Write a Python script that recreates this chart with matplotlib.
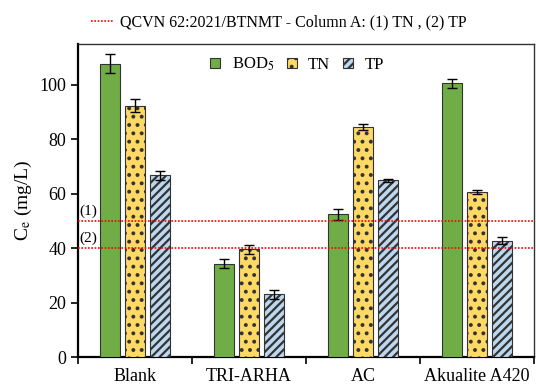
import numpy as np
import matplotlib
matplotlib.use("Agg")
import matplotlib.pyplot as plt
from matplotlib.lines import Line2D

plt.rcParams["font.family"] = ["Liberation Serif", "DejaVu Serif"]
plt.rcParams["mathtext.fontset"] = "stix"
plt.rcParams["hatch.linewidth"] = 1.6

groups = ["Blank", "TRI-ARHA", "AC", "Akualite A420"]
bod = [107.7, 34.3, 52.4, 100.6]
bod_err = [3.5, 1.6, 2.0, 1.6]
tn = [92.4, 39.5, 84.5, 60.6]
tn_err = [2.5, 1.5, 1.2, 0.7]
tp = [66.8, 23.0, 64.9, 42.8]
tp_err = [1.6, 1.6, 0.6, 1.2]
limit_tn = 50
limit_tp = 40

fig = plt.figure(figsize=(5.36, 3.87), dpi=100)
ax = fig.add_axes([78 / 536, 30 / 387, 456 / 536, 313 / 387])

x = np.arange(len(groups))
w = 0.175
step = 0.22
ek = dict(ecolor="black", elinewidth=1, capsize=3.5, capthick=1)

ax.bar(x - step, bod, w, yerr=bod_err, color="#70AD47", edgecolor="#333333",
       linewidth=0.8, error_kw=ek, label="BOD$_5$", zorder=3)
ax.bar(x, tn, w, yerr=tn_err, color="#FFD966", edgecolor="#333333",
       linewidth=0.8, hatch="..", error_kw=ek, label="TN", zorder=3)
ax.bar(x + step, tp, w, yerr=tp_err, color="#BDD7EE", edgecolor="#333333",
       linewidth=0.8, hatch="////", error_kw=ek, label="TP", zorder=3)

# discharge limits
ax.axhline(limit_tn, color="red", ls=(0, (1, 1)), lw=1.2, zorder=4)
ax.axhline(limit_tp, color="red", ls=(0, (1, 1)), lw=1.2, zorder=4)
ax.text(-0.49, limit_tn + 1, "(1)", fontsize=11, ha="left", va="bottom")
ax.text(-0.49, limit_tp + 1, "(2)", fontsize=11, ha="left", va="bottom")

ax.set_xlim(-0.5, 3.5)
ax.set_ylim(0, 115)
ax.set_yticks([0, 20, 40, 60, 80, 100])
ax.set_xticks([-0.5, 0.5, 1.5, 2.5, 3.5])
ax.set_xticklabels([])
ax.set_xticks(x, minor=True)
ax.set_xticklabels(groups, minor=True, fontsize=13)
ax.tick_params(axis="x", which="minor", length=0, pad=8)
ax.tick_params(axis="x", which="major", length=5, width=1.2, direction="out")
ax.tick_params(axis="y", labelsize=13, length=5, width=1.2, direction="out")
ax.set_ylabel("C$_\\mathrm{e}$ (mg/L)", fontsize=14)

for s in ["left", "bottom"]:
    ax.spines[s].set_linewidth(1.6)
for s in ["top", "right"]:
    ax.spines[s].set_linewidth(1.0)
    ax.spines[s].set_color("#333333")

ax.legend(loc="upper center", bbox_to_anchor=(0.48, 1.01), ncol=3, frameon=False,
          fontsize=12, handlelength=0.6, handleheight=0.6, columnspacing=0.75,
          handletextpad=0.7)

h = [Line2D([], [], color="red", ls=(0, (1, 1)), lw=1.2)]
fig.legend(h, ["QCVN 62:2021/BTNMT - Column A: (1) TN , (2) TP"],
           loc="upper center", bbox_to_anchor=(0.52, 1.0), frameon=False,
           fontsize=11.5, handlelength=1.35, handletextpad=0.45)

plt.savefig("out.png", dpi=100)
